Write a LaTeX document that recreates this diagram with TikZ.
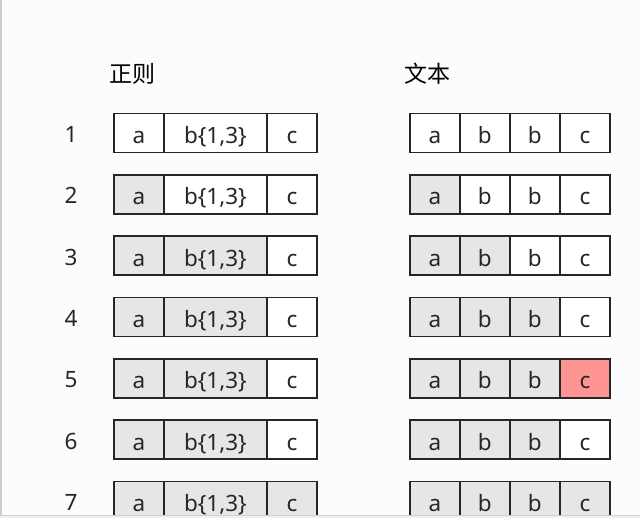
\documentclass[tikz,border=0pt]{standalone}
\usepackage{fontspec}
\setmainfont{Noto Sans}
\newfontfamily\cjk{Noto Sans CJK SC}
\definecolor{bgc}{HTML}{FCFBFD}
\definecolor{cellgray}{HTML}{E6E6E6}
\definecolor{cellred}{HTML}{FF9593}
\definecolor{linec}{HTML}{262626}
\definecolor{edgec}{HTML}{CCCCCC}
\tikzset{
  cell/.style={draw=linec, line width=1.8pt, rectangle, inner sep=0pt,
    minimum height=39pt, anchor=north west, text=linec,
    font=\fontsize{22.5}{26}\selectfont, text height=21pt, text depth=0pt},
  cw/.style={fill=white},
  cg/.style={fill=cellgray},
  cr/.style={fill=cellred},
  narrow/.style={minimum width=50pt},
  wide/.style={minimum width=103pt},
  rownum/.style={inner sep=0pt, text=linec, font=\fontsize{22.5}{26}\selectfont,
    text height=21pt, text depth=0pt},
  title/.style={inner sep=0pt, anchor=base west, text=black, font=\cjk\fontsize{23}{27}\selectfont}
}
\begin{document}
\begin{tikzpicture}[x=1pt,y=-1pt]
\useasboundingbox (0,0) rectangle (640,518);
\fill[bgc] (0,0) rectangle (640,518);
\fill[edgec] (0,0) rectangle (1.5,518);
\node[title] (t1) at (109,82.5) {正则};
\node[title] (t2) at (404,82.5) {文本};
\begin{scope}
\clip (0,0) rectangle (640,515.5);
\foreach \r/\la/\lb/\lc/\ra/\rb/\rc/\rd in {1/cw/cw/cw/cw/cw/cw/cw, 2/cg/cw/cw/cg/cw/cw/cw, 3/cg/cg/cw/cg/cg/cw/cw, 4/cg/cg/cw/cg/cg/cg/cw, 5/cg/cg/cw/cg/cg/cg/cr, 6/cg/cg/cw/cg/cg/cg/cw, 7/cg/cg/cg/cg/cg/cg/cg}{
  \pgfmathsetmacro\yt{112.7+(\r-1)*61.3}
  \pgfmathsetmacro\yc{\yt+19.5}
  \node[rownum] (n\r) at (71,\yc) {\r};
  \node[cell,narrow,\la] (L\r-1) at (113,\yt) {a};
  \node[cell,wide,\lb] (L\r-2) at (163,\yt) {b\{1,3\}};
  \node[cell,narrow,\lc] (L\r-3) at (266,\yt) {c};
  \node[cell,narrow,\ra] (R\r-1) at (409,\yt) {a};
  \node[cell,narrow,\rb] (R\r-2) at (459,\yt) {b};
  \node[cell,narrow,\rc] (R\r-3) at (509,\yt) {b};
  \node[cell,narrow,\rd] (R\r-4) at (559,\yt) {c};
}
\end{scope}
\fill[white!94!black] (0,515.5) rectangle (640,518);
\draw[white!82!black, line width=0.8pt] (0,515.7) -- (640,515.7);
\end{tikzpicture}
\end{document}
